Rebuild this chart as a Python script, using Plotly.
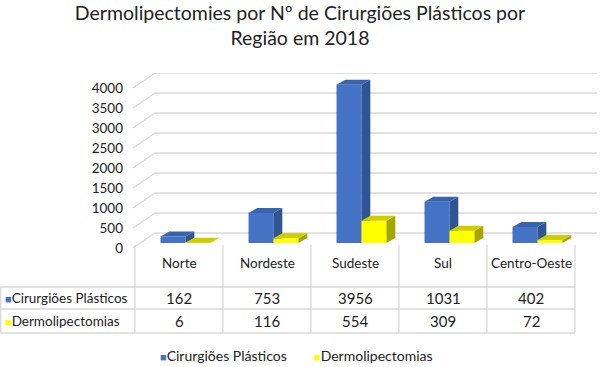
import plotly.graph_objects as go

# ---- data ----
regions = ["Norte", "Nordeste", "Sudeste", "Sul", "Centro-Oeste"]
cirurgioes = [162, 753, 3956, 1031, 402]
dermo = [6, 116, 554, 309, 72]
series_names = ["Cirurgiões Plásticos", "Dermolipectomias"]
y_ticks = [0, 500, 1000, 1500, 2000, 2500, 3000, 3500, 4000]

# ---- styling / geometry ----
W, H = 600, 367
L, R, T, B = 133, 597, 73, 248          # plot area in pixels
X0 = -0.5 - 2 / 88                       # x range start
X1 = X0 + (R - L) / 88
YMAX = 4375

FONT = "Lato"
TXT = "#222222"
GRID = "#d9d9d9"

def xp(p):
    return (p - L) / (R - L)

def yp(p):
    return (B - p) / (B - T)

wall_dx, wall_dy = 0.25, 375      # depth of the floor / side wall
bar_base = 125                    # bars stand a bit behind the front edge
bar_w = 0.284
bar_dx, bar_dy = 0.1, 125         # bar depth
offsets = [-0.21, 0.074]          # left edge of each series' front face
front_cols = ["#4472C4", "#FFFF00"]
side_cols = ["#2F5597", "#A6A600"]
top_cols = ["#3A63AE", "#CDCD00"]

fig = go.Figure()

# back wall & side wall gridlines (drawn behind everything)
gx, gy = [], []
for v in y_ticks:
    gx += [X0, X0 + wall_dx, X1, None]
    gy += [v, v + wall_dy, v + wall_dy, None]
fig.add_trace(go.Scatter(x=gx, y=gy, mode="lines", line=dict(color=GRID, width=1.3),
                         hoverinfo="skip", showlegend=False, zorder=-1))

for s, vals in enumerate([cirurgioes, dermo]):
    xs = [i + offsets[s] for i in range(len(regions))]
    # front faces
    fig.add_trace(go.Bar(x=[x + bar_w / 2 for x in xs], y=vals, base=bar_base, width=bar_w,
                         marker=dict(color=front_cols[s], line=dict(width=0)),
                         name=series_names[s], showlegend=False, zorder=2 * s,
                         customdata=regions,
                         hovertemplate="%{customdata}: %{y}<extra>" + series_names[s] + "</extra>"))
    sx, sy, tx, ty = [], [], [], []
    for x, v in zip(xs, vals):
        x1 = x + bar_w
        top = bar_base + v
        sx += [x1, x1, x1 + bar_dx, x1 + bar_dx, x1, None]
        sy += [bar_base, top, top + bar_dy, bar_base + bar_dy, bar_base, None]
        tx += [x, x1, x1 + bar_dx, x + bar_dx, x, None]
        ty += [top, top, top + bar_dy, top + bar_dy, top, None]
    fig.add_trace(go.Scatter(x=sx, y=sy, mode="lines", fill="toself", fillcolor=side_cols[s],
                             line=dict(width=0, color=side_cols[s]), hoverinfo="skip",
                             showlegend=False, zorder=2 * s + 1))
    fig.add_trace(go.Scatter(x=tx, y=ty, mode="lines", fill="toself", fillcolor=top_cols[s],
                             line=dict(width=0, color=top_cols[s]), hoverinfo="skip",
                             showlegend=False, zorder=2 * s + 1))

def swatch(s, size=11):
    return f"<span style='color:{front_cols[s]};font-size:{size}px'>■</span>"

# legend entries (one legend per item so the spacing can match)
for s, lg in enumerate(["legend", "legend2"]):
    fig.add_trace(go.Scatter(x=[None], y=[None], mode="markers",
                             name=swatch(s) + series_names[s], legend=lg,
                             marker=dict(symbol="square", size=1, color="rgba(0,0,0,0)",
                                         line=dict(width=0))))

# ---- data table ----
shapes = []
for i in range(len(regions) + 1):
    shapes.append(dict(type="line", xref="x", yref="paper", x0=i - 0.5, x1=i - 0.5,
                       y0=yp(245), y1=yp(333), line=dict(color=GRID, width=1.3)))
for p in [287, 309, 333]:
    shapes.append(dict(type="line", xref="paper", yref="paper", x0=xp(0.5), x1=xp(575),
                       y0=yp(p), y1=yp(p), line=dict(color=GRID, width=1.3)))
shapes.append(dict(type="line", xref="paper", yref="paper", x0=xp(0.7), x1=xp(0.7),
                   y0=yp(287), y1=yp(333), line=dict(color=GRID, width=1.3)))

ann = []
for i, r in enumerate(regions):
    ann.append(dict(x=i, y=yp(263), xref="x", yref="paper", text=r, showarrow=False,
                    yanchor="middle", font=dict(family=FONT, size=13.5, color=TXT)))
    ann.append(dict(x=i, y=yp(298), xref="x", yref="paper", text=str(cirurgioes[i]),
                    yanchor="middle", showarrow=False, font=dict(family=FONT, size=15, color=TXT)))
    ann.append(dict(x=i, y=yp(321), xref="x", yref="paper", text=str(dermo[i]),
                    yanchor="middle", showarrow=False, font=dict(family=FONT, size=15, color=TXT)))
for s, p in enumerate([298, 321]):
    ann.append(dict(x=xp(3), y=yp(p), xref="paper", yref="paper", xanchor="left",
                    yanchor="middle", text=swatch(s) + series_names[s],
                    showarrow=False, font=dict(family=FONT, size=13.5, color=TXT)))

legend_style = dict(orientation="h", yanchor="middle", y=yp(356), xanchor="left",
                    font=dict(family=FONT, size=14, color=TXT), itemwidth=30,
                    bgcolor="rgba(0,0,0,0)")

fig.update_layout(
    width=W, height=H,
    margin=dict(l=L, r=W - R, t=T, b=H - B, autoexpand=False),
    paper_bgcolor="white", plot_bgcolor="white",
    barmode="overlay",
    title=dict(text="Dermolipectomies por Nº de Cirurgiões Plásticos por<br>Região em 2018",
               x=0.5, xanchor="center", y=1 - 20 / H, yanchor="top", yref="container",
               font=dict(family=FONT, size=19.5, color=TXT)),
    xaxis=dict(range=[X0, X1], showticklabels=False, showgrid=False, zeroline=False,
               showline=False, fixedrange=True),
    yaxis=dict(range=[0, YMAX], tickvals=y_ticks, showgrid=False, zeroline=False,
               showline=False, ticklabelstandoff=9,
               tickfont=dict(family=FONT, size=13.5, color=TXT)),
    legend=dict(legend_style, x=xp(162 - 42)),
    legend2=dict(legend_style, x=xp(316 - 42)),
    shapes=shapes, annotations=ann,
)

fig.write_html("out.html", config={"displayModeBar": False},
               post_script="document.body.style.margin='0';")
